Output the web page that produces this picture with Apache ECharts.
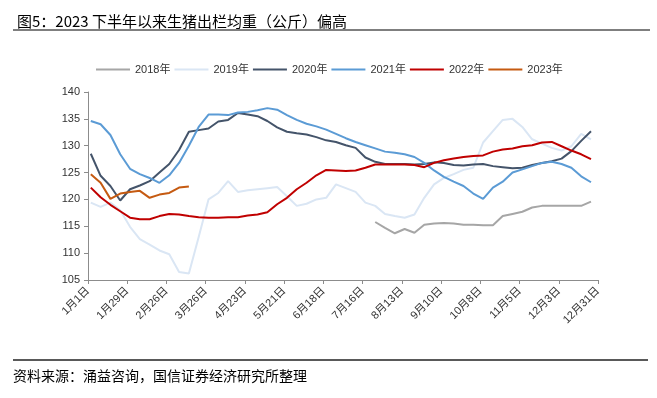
<!DOCTYPE html>
<html>
<head>
<meta charset="utf-8">
<script src="https://cdn.jsdelivr.net/npm/echarts@6/dist/echarts.min.js"></script>
<style>
  html, body { margin: 0; padding: 0; background: #fff; }
  #chart { width: 657px; height: 398px; }
</style>
</head>
<body>
<div id="chart"></div>
<script>
// 每周读数对应的年内天数（x 轴）
const weekDay = [2, 9, 16, 23, 30, 37, 44, 51, 58, 65, 72, 79, 86, 93, 100, 107, 114, 121, 128, 135,
  142, 149, 156, 163, 170, 177, 184, 191, 198, 205, 212, 219, 226, 233, 240, 247, 254, 261, 268, 275,
  282, 289, 296, 303, 310, 317, 324, 331, 338, 345, 352, 359];
const tickLabels = ['1月1日', '1月29日', '2月26日', '3月26日', '4月23日', '5月21日', '6月18日',
  '7月16日', '8月13日', '9月10日', '10月8日', '11月5日', '12月3日', '12月31日'];
const yearNames = ['2018年', '2019年', '2020年', '2021年', '2022年', '2023年'];
const lineColors = ['#a6a6a6', '#dae6f4', '#44546a', '#5b9bd5', '#c00000', '#c55a11'];

const w2018 = [null, null, null, null, null, null, null, null, null, null, null, null, null, null, null,
  null, null, null, null, null, null, null, null, null, null, null, null, null, null,
  115.8, 114.7, 113.7, 114.5, 113.8, 115.3, 115.5, 115.6, 115.5, 115.3, 115.3, 115.2, 115.2,
  116.9, 117.3, 117.7, 118.5, 118.8, 118.8, 118.8, 118.8, 118.8, 119.6];
const w2019 = [119.4, 118.6, 119.4, 118.0, 114.9, 112.6, 111.6, 110.5, 109.8, 106.5, 106.2, 113.0, 120.0,
  121.2, 123.4, 121.4, 121.7, 121.9, 122.1, 122.3, 120.6, 118.8, 119.2, 120.0, 120.3, 122.8, 122.1,
  121.4, 119.4, 118.8, 117.3, 116.9, 116.6, 117.2, 120.3, 122.8, 124.0, 124.7, 125.5, 125.9, 130.6,
  132.7, 134.8, 135.0, 133.5, 131.2, 130.4, 129.6, 129.1, 129.9, 132.2, 131.2];
const w2020 = [128.5, 124.4, 122.5, 119.8, 121.9, 122.6, 123.4, 125.0, 126.6, 129.2, 132.6, 132.9, 133.2,
  134.5, 134.8, 136.1, 135.8, 135.5, 134.6, 133.4, 132.6, 132.3, 132.1, 131.6, 131.0, 130.7, 130.1,
  129.6, 127.8, 127.0, 126.6, 126.6, 126.6, 126.5, 126.6, 126.9, 126.8, 126.4, 126.3, 126.5, 126.6,
  126.2, 126.0, 125.8, 125.9, 126.4, 126.8, 127.1, 127.6, 129.0, 130.9, 132.7];
const w2021 = [134.6, 134.0, 132.0, 128.4, 125.7, 124.7, 124.0, 123.1, 124.5, 126.8, 130.0, 133.5, 135.8,
  135.8, 135.7, 136.2, 136.3, 136.6, 137.0, 136.7, 135.7, 134.8, 134.1, 133.6, 133.0, 132.2, 131.4,
  130.7, 130.1, 129.5, 128.9, 128.7, 128.4, 127.9, 126.8, 125.4, 124.2, 123.3, 122.5, 121.1, 120.1,
  122.2, 123.3, 125.0, 125.6, 126.2, 126.8, 127.0, 126.6, 125.9, 124.3, 123.2];
const w2022 = [122.2, 120.4, 119.0, 117.8, 116.6, 116.3, 116.3, 116.9, 117.3, 117.2, 116.9, 116.7, 116.6,
  116.6, 116.7, 116.7, 117.0, 117.2, 117.6, 119.1, 120.3, 121.9, 123.1, 124.5, 125.5, 125.4, 125.3,
  125.4, 125.9, 126.5, 126.5, 126.5, 126.5, 126.4, 126.0, 126.8, 127.3, 127.6, 127.9, 128.1, 128.2,
  128.9, 129.3, 129.5, 129.9, 130.1, 130.6, 130.7, 129.9, 129.1, 128.4, 127.5];
const w2023 = [124.7, 123.1, 120.1, 121.1, 121.4, 121.6, 120.3, 120.9, 121.2, 122.2, 122.4];

const yearValues = [w2018, w2019, w2020, w2021, w2022, w2023];

const chart = echarts.init(document.getElementById('chart'));
const option = {
  animation: false,
  title: {
    text: '图5：2023 下半年以来生猪出栏均重（公斤）偏高',
    left: 12,
    top: 9,
    textStyle: {
      fontSize: 15,
      fontWeight: 'normal',
      color: '#000',
      fontFamily: 'Noto Sans CJK SC'
    }
  },
  graphic: [
    {
      type: 'line',
      shape: { x1: 13, y1: 30, x2: 650, y2: 30 },
      style: { stroke: '#555', lineWidth: 1.5 }
    },
    {
      type: 'line',
      shape: { x1: 13, y1: 360, x2: 648, y2: 360 },
      style: { stroke: '#222', lineWidth: 1.5 }
    },
    {
      type: 'text',
      left: 13,
      top: 369,
      style: {
        text: '资料来源：涌益咨询，国信证券经济研究所整理',
        fontSize: 14,
        fill: '#000',
        fontFamily: 'Noto Sans CJK SC'
      }
    }
  ],
  legend: {
    data: yearNames,
    left: 96,
    top: 64,
    padding: 0,
    icon: 'rect',
    itemWidth: 34,
    itemHeight: 2,
    itemGap: 4,
    textStyle: {
      fontSize: 11,
      color: '#333',
      fontFamily: 'Liberation Sans, Noto Sans CJK SC'
    }
  },
  grid: {
    left: 88,
    right: 59,
    top: 92,
    bottom: 118
  },
  xAxis: {
    type: 'value',
    min: 0,
    max: 364,
    interval: 28,
    splitLine: { show: false },
    axisLine: { lineStyle: { color: '#8c8c8c', width: 1 } },
    axisTick: { show: true, length: 4, lineStyle: { color: '#8c8c8c' } },
    axisLabel: {
      rotate: 45,
      margin: 9,
      fontSize: 11,
      color: '#333',
      fontFamily: 'Liberation Sans, Noto Sans CJK SC',
      formatter: function (v) {
        return tickLabels[Math.round(v / 28)];
      }
    }
  },
  yAxis: {
    type: 'value',
    min: 105,
    max: 140,
    interval: 5,
    splitLine: { show: false },
    axisLine: { show: true, lineStyle: { color: '#8c8c8c', width: 1 } },
    axisTick: { show: true, length: 4, lineStyle: { color: '#8c8c8c' } },
    axisLabel: {
      margin: 8,
      fontSize: 11,
      color: '#333',
      fontFamily: 'Liberation Sans'
    }
  },
  series: yearNames.map(function (name, k) {
    return {
      name: name,
      type: 'line',
      symbol: 'none',
      lineStyle: { width: 2, color: lineColors[k] },
      itemStyle: { color: lineColors[k] },
      data: yearValues[k].map(function (v, i) {
        return [weekDay[i], v];
      })
    };
  })
};
chart.setOption(option);
</script>
</body>
</html>
